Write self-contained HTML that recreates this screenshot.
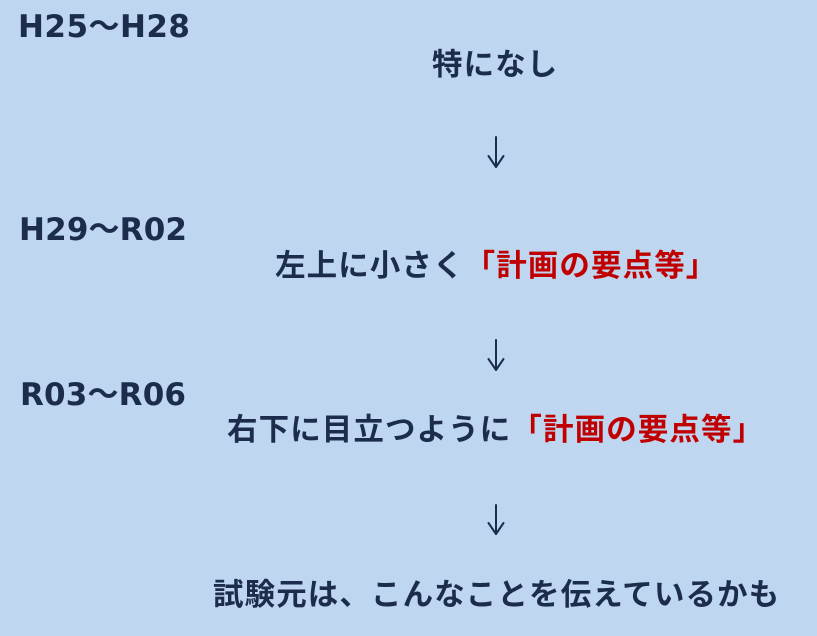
<!DOCTYPE html>
<html>
<head>
<meta charset="utf-8">
<style>
  html, body { margin: 0; padding: 0; background: #bed6ef; }
  svg { display: block; }
  .lbl { font-family: "DejaVu Sans", "Liberation Sans", "Noto Sans CJK JP", sans-serif; font-weight: bold; font-size: 31px; fill: #1c2c4c; }
  .jp { font-family: "Liberation Sans", "Noto Sans CJK JP", sans-serif; font-weight: bold; font-size: 30.5px; letter-spacing: 1.1px; fill: #1c2c4c; }
  .red { fill: #c00000; }
</style>
</head>
<body>
<svg width="817" height="636" viewBox="0 0 817 636" xmlns="http://www.w3.org/2000/svg">
  <rect x="0" y="0" width="817" height="636" fill="#bed6ef"/>

  <!-- Period labels -->
  <text class="lbl" x="18" y="37" textLength="172" lengthAdjust="spacing">H25～H28</text>
  <text class="lbl" x="19" y="240" textLength="168" lengthAdjust="spacing">H29～R02</text>
  <text class="lbl" x="20" y="405" textLength="166" lengthAdjust="spacing">R03～R06</text>

  <!-- Row texts -->
  <text class="jp" x="432" y="75">特になし</text>
  <text class="jp" x="275" y="276">左上に小さく<tspan class="red">「計画の要点等」</tspan></text>
  <text class="jp" x="227" y="440">右下に目立つように<tspan class="red">「計画の要点等」</tspan></text>
  <text class="jp" x="213" y="605">試験元は、こんなことを伝えているかも</text>

  <!-- Arrows -->
  <g stroke="#1c2c4c" stroke-width="2" fill="none" stroke-linecap="round" stroke-linejoin="round">
    <line x1="496" y1="137" x2="496" y2="167"/>
    <polyline points="488.5,156 496,167 503.5,156"/>
    <line x1="496" y1="340" x2="496" y2="370"/>
    <polyline points="488.5,359 496,370 503.5,359"/>
    <line x1="496" y1="505" x2="496" y2="534"/>
    <polyline points="488.5,523 496,534 503.5,523"/>
  </g>
</svg>
</body>
</html>
